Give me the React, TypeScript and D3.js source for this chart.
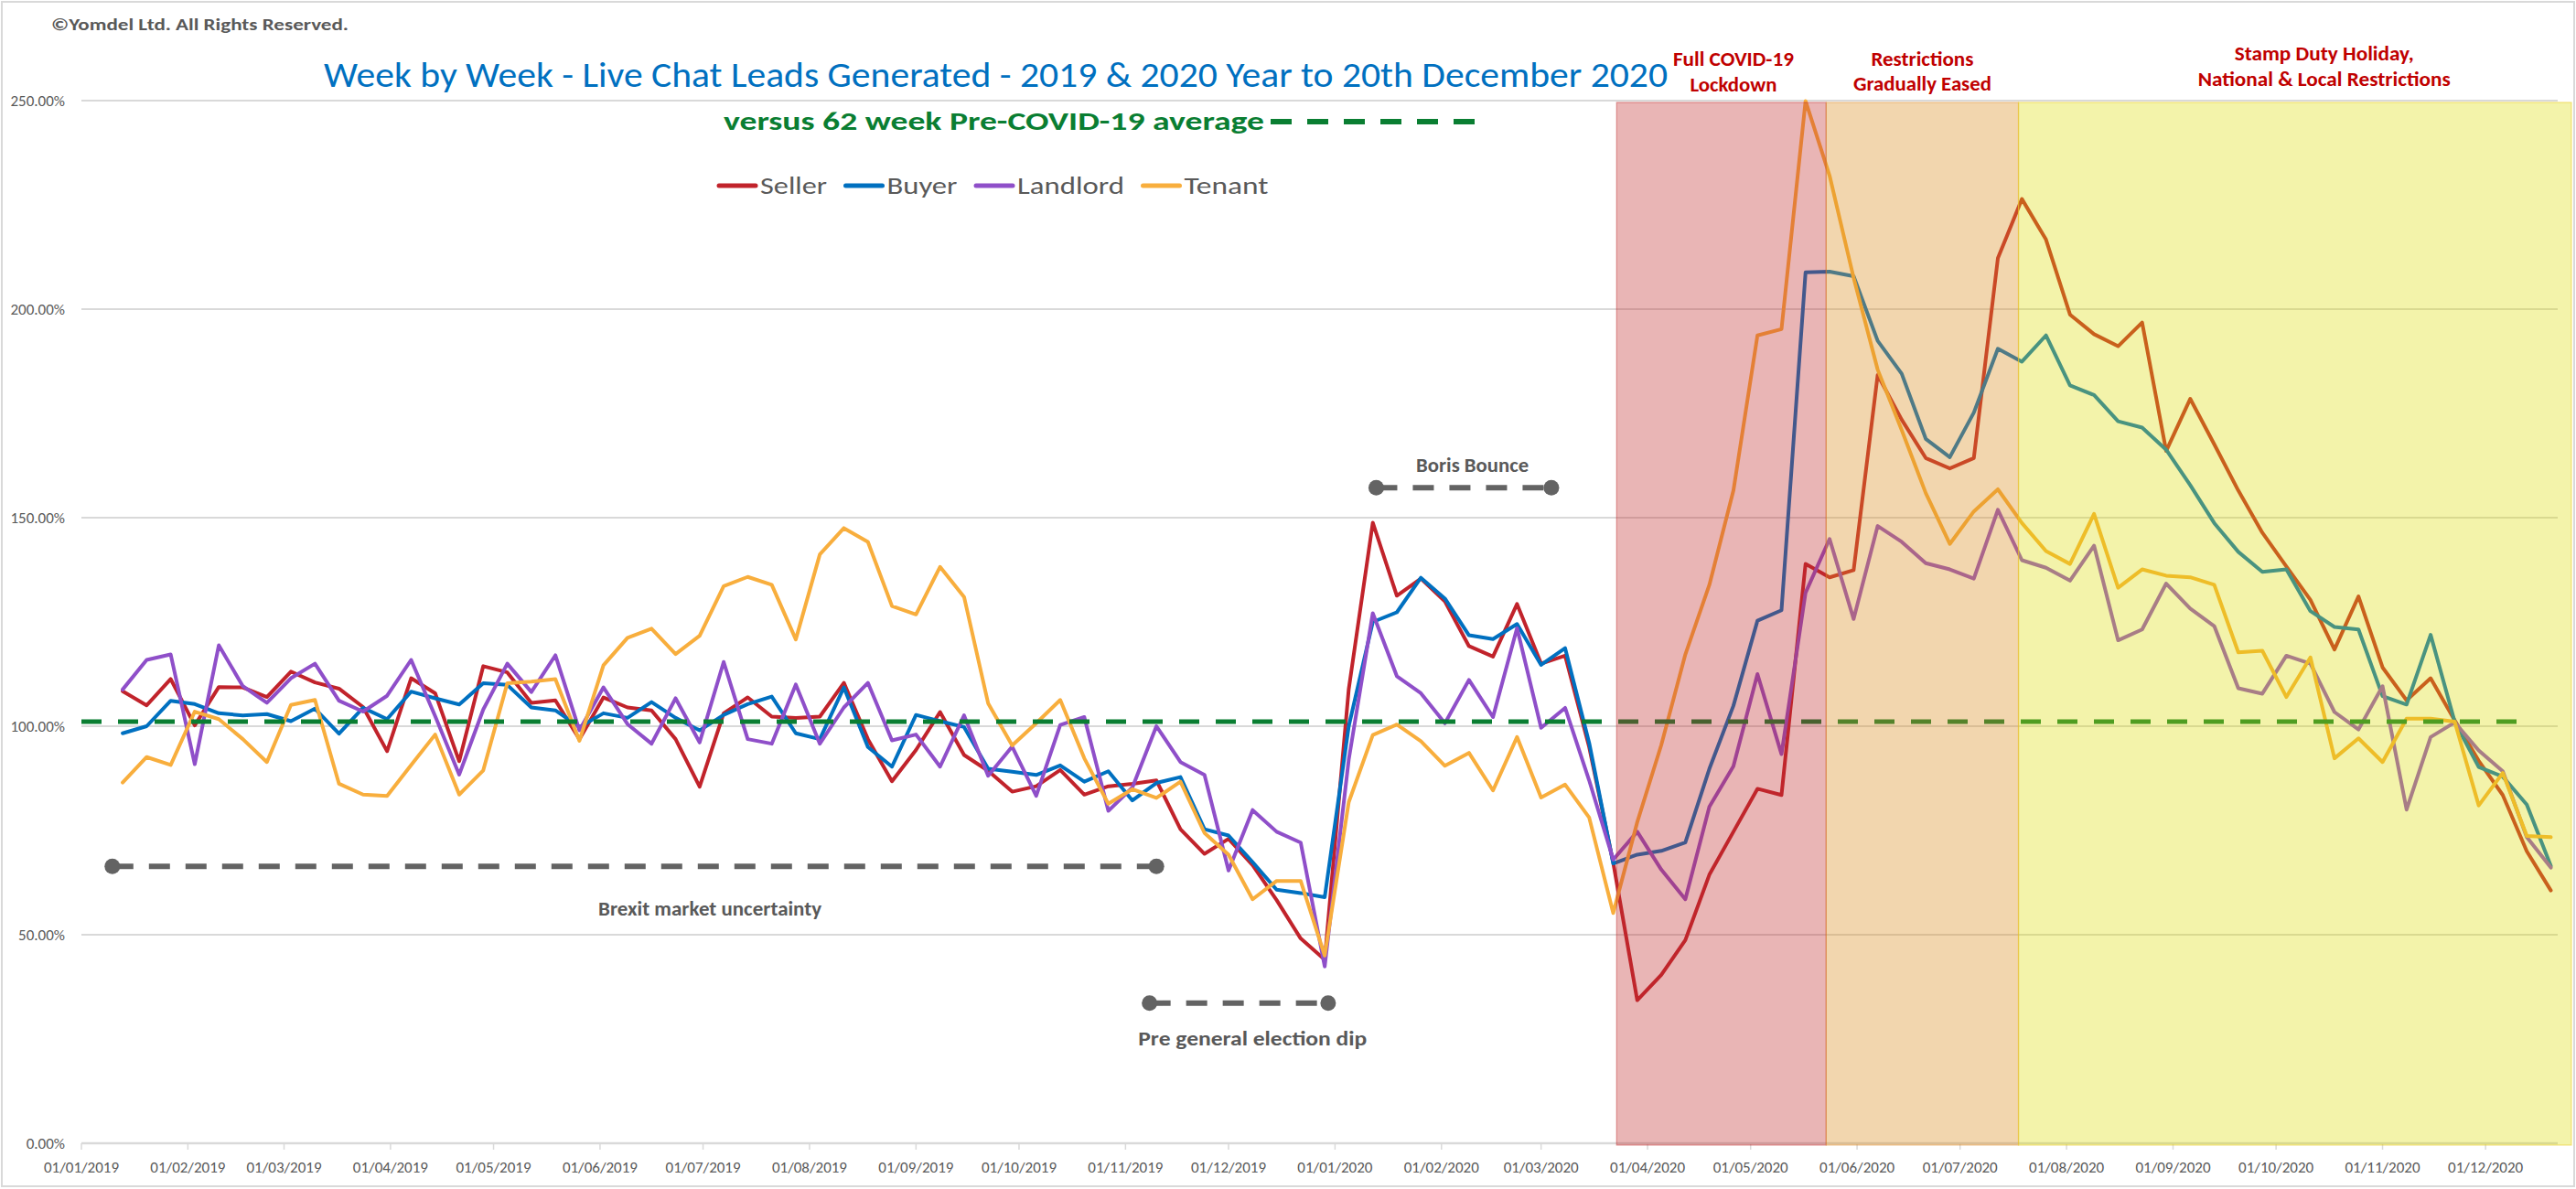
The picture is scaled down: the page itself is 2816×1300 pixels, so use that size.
import React, { useEffect, useRef } from 'react';
import * as d3 from 'd3';

// weekly data, week ending Sunday
const FIRST_WEEK = '2019-01-13';
const LAST_WEEK = '2020-12-20';

const seller = [
  108.4, 105.0, 111.3, 100.2, 109.4, 109.3, 107.0, 113.1, 110.5, 109.0, 104.6, 94.0, 111.5, 107.9, 91.6, 114.4, 112.9,
  105.6, 106.2, 96.9, 106.9, 104.5, 103.8, 96.9, 85.5, 103.1, 106.9, 102.3, 102.0, 102.3, 110.4, 96.9, 86.8, 94.3, 103.4,
  93.1, 89.3, 84.3, 85.6, 89.5, 83.6, 85.6, 86.2, 87.0, 75.3, 69.4, 73.0, 66.7, 58.3, 49.1, 44.0,
  108.9, 148.8, 131.3, 135.4, 129.9, 119.2, 116.7, 129.3, 115.0, 116.9, 95.0, 67.3, 34.3, 40.4, 48.7,
  64.4, 74.7, 85.0, 83.5, 138.9, 135.7, 137.4, 184.2, 173.5, 164.3, 161.8, 164.3, 212.2, 226.4, 216.7, 198.7, 194.0, 191.1,
  196.8, 166.0, 178.5, 167.6, 156.5, 146.4, 138.3, 130.3, 118.4, 131.1, 114.1, 106.2, 111.5, 101.4, 91.7, 83.5, 70.0, 60.6,
];

const buyer = [
  98.3, 100.0, 106.1, 105.3, 103.1, 102.6, 102.9, 101.2, 104.2, 98.2, 104.4, 101.7, 108.3, 106.7, 105.2, 110.3, 109.9,
  104.5, 103.8, 99.8, 103.1, 102.0, 105.8, 102.0, 99.0, 102.7, 105.3, 107.1, 98.3, 96.9, 109.3, 95.0, 90.3, 102.7, 101.2,
  99.8, 89.8, 89.1, 88.3, 90.6, 86.7, 89.2, 82.2, 86.4, 87.8, 75.3, 73.8, 67.4, 60.8, 60.0, 59.0,
  100.0, 125.0, 127.3, 135.6, 130.6, 121.8, 120.9, 124.5, 114.7, 118.7, 96.0, 67.1, 69.2, 70.1, 72.1,
  89.8, 104.9, 125.3, 127.8, 208.8, 209.0, 207.9, 192.4, 184.5, 168.9, 164.5, 175.2, 190.5, 187.4, 193.7, 181.7, 179.4, 173.1,
  171.6, 166.3, 157.8, 148.7, 141.8, 137.0, 137.6, 127.6, 123.8, 123.2, 107.2, 105.2, 121.9, 101.1, 90.2, 87.9, 81.2, 66.5,
];

const landlord = [
  108.8, 115.9, 117.2, 90.9, 119.4, 109.6, 105.6, 111.5, 115.0, 106.1, 103.5, 107.3, 115.9, 102.4, 88.4, 104.0, 115.0,
  108.2, 117.0, 99.0, 109.3, 100.5, 95.8, 106.7, 96.1, 115.4, 96.9, 95.8, 110.0, 95.8, 104.5, 110.4, 96.6, 98.0, 90.3,
  102.6, 88.1, 95.1, 83.3, 100.3, 102.2, 79.7, 85.3, 100.0, 91.4, 88.3, 65.4, 79.9, 74.7, 72.1, 42.4,
  92.0, 127.1, 112.0, 107.9, 100.7, 111.1, 102.2, 123.5, 99.6, 104.4, 87.0, 68.0, 74.7, 65.6, 58.5,
  80.7, 90.4, 112.5, 93.3, 132.0, 144.9, 125.7, 148.0, 144.2, 139.1, 137.6, 135.4, 151.9, 139.8, 138.0, 134.9, 143.3, 120.6,
  123.2, 134.2, 128.2, 124.0, 109.1, 107.8, 116.9, 115.0, 103.4, 99.2, 109.6, 80.0, 97.4, 100.9, 94.2, 89.2, 73.4, 66.1,
];

const tenant = [
  86.5, 92.6, 90.7, 103.5, 101.7, 96.9, 91.4, 105.1, 106.3, 86.2, 83.6, 83.3, 90.7, 98.0, 83.6, 89.4, 110.3,
  110.7, 111.3, 96.5, 114.6, 121.2, 123.4, 117.3, 121.7, 133.6, 135.8, 133.9, 120.8, 141.2, 147.5, 144.2, 128.8, 126.8, 138.2,
  131.0, 105.5, 95.4, 100.7, 106.3, 92.3, 81.4, 84.9, 82.8, 86.7, 74.4, 69.2, 58.5, 62.9, 62.9, 45.0,
  81.8, 97.9, 100.4, 96.4, 90.5, 93.6, 84.6, 97.4, 82.9, 86.0, 78.1, 55.2, 77.0, 95.5, 117.2,
  133.9, 156.5, 193.7, 195.2, 249.9, 232.0, 207.5, 185.5, 171.0, 155.9, 143.7, 151.5, 156.8, 148.7, 142.0, 138.9, 150.9, 133.2,
  137.6, 136.1, 135.7, 133.9, 117.7, 118.1, 107.0, 116.5, 92.3, 97.1, 91.4, 101.8, 101.8, 101.1, 81.0, 88.8, 73.7, 73.4,
];

const seriesNames = ['Seller', 'Buyer', 'Landlord', 'Tenant'];
const seriesColors = ['#c1232b', '#0070c0', '#8f4fc9', '#f8ae3d'];

// 62 week pre-COVID-19 average
const preCovidAverage = 101.1;

const yTicks = [0, 50, 100, 150, 200, 250];

const regions = [
  { lines: ['Full COVID-19', 'Lockdown'], from: '2020-03-23', to: '2020-05-23', labelAt: '2020-04-26' },
  { lines: ['Restrictions', 'Gradually Eased'], from: '2020-05-23', to: '2020-07-18', labelAt: '2020-06-20' },
  { lines: ['Stamp Duty Holiday,', 'National & Local Restrictions'], from: '2020-07-18', to: '2020-12-26', labelAt: '2020-10-15' },
];

const callouts = [
  { label: 'Brexit market uncertainty', from: '2019-01-10', to: '2019-11-10', level: 66.4, labelAt: '2019-07-03' },
  { label: 'Pre general election dip', from: '2019-11-08', to: '2019-12-30', level: 33.6, labelAt: '2019-12-08' },
  { label: 'Boris Bounce', from: '2020-01-13', to: '2020-03-04', level: 157.2, labelAt: '2020-02-10' },
];

const W = 2816;
const H = 1300;
const FONT = "Carlito, Calibri, Lato, 'Open Sans', sans-serif";
const GREY = '#595959';

const day = (s: string) => d3.utcParse('%Y-%m-%d')(s) as Date;

export default function App() {
  const ref = useRef<SVGSVGElement>(null);

  useEffect(() => {
    const svg = d3.select(ref.current);
    svg.selectAll('*').remove();

    const weeks = d3.utcSunday.range(day(FIRST_WEEK), d3.utcDay.offset(day(LAST_WEEK), 1));

    const x = d3.scaleUtc().domain([day('2019-01-01'), day('2020-12-22')]).range([89, 2796]);
    const y = d3.scaleLinear().domain([0, 250]).range([1250, 110]);

    // text squeezed to the width it has in the original (Calibri is narrow)
    const fitText = (g: any, txt: string, left: number, base: number, width: number, size: number, weight: string, fill: string) =>
      g.append('text')
        .attr('x', left).attr('y', base)
        .attr('textLength', width).attr('lengthAdjust', 'spacingAndGlyphs')
        .attr('font-family', FONT).attr('font-size', size).attr('font-weight', weight)
        .attr('fill', fill).text(txt);

    svg.append('rect')
      .attr('x', 2).attr('y', 2).attr('width', W - 4).attr('height', H - 5)
      .attr('fill', '#fff').attr('stroke', '#d9d9d9').attr('stroke-width', 2);

    // gridlines + y labels
    svg.append('g').selectAll('line').data(yTicks).enter().append('line')
      .attr('x1', x.range()[0]).attr('x2', x.range()[1])
      .attr('y1', d => y(d)).attr('y2', d => y(d))
      .attr('stroke', '#d9d9d9').attr('stroke-width', d => (d === 0 ? 2.5 : 1.8));

    svg.append('g').selectAll('text').data(yTicks).enter().append('text')
      .attr('x', 71).attr('y', d => y(d)).attr('dy', '0.35em')
      .attr('text-anchor', 'end').attr('font-family', FONT).attr('font-size', 17)
      .attr('fill', GREY).text(d => d3.format('.2f')(d) + '%');

    // x axis: monthly ticks
    const months = d3.utcMonth.range(day('2019-01-01'), day('2020-12-02'));
    svg.append('g').selectAll('line').data(months).enter().append('line')
      .attr('x1', d => x(d)).attr('x2', d => x(d))
      .attr('y1', 1250).attr('y2', 1257)
      .attr('stroke', '#d9d9d9').attr('stroke-width', 1.5);
    svg.append('g').selectAll('text').data(months).enter().append('text')
      .attr('x', d => x(d)).attr('y', 1282)
      .attr('text-anchor', 'middle').attr('font-family', FONT).attr('font-size', 17)
      .attr('fill', GREY).text(d => d3.utcFormat('%d/%m/%Y')(d));

    // series
    const line = d3.line<number>()
      .x((_, i) => x(weeks[i]))
      .y(d => y(d));
    [seller, buyer, landlord, tenant].forEach((vals, i) => {
      svg.append('path').datum(vals)
        .attr('d', line)
        .attr('fill', 'none')
        .attr('stroke', seriesColors[i])
        .attr('stroke-width', 4)
        .attr('stroke-linejoin', 'round')
        .attr('stroke-linecap', 'round');
    });

    // pre-COVID average
    svg.append('line')
      .attr('x1', x(day('2019-01-01'))).attr('x2', x(day('2020-12-12')))
      .attr('y1', y(preCovidAverage)).attr('y2', y(preCovidAverage))
      .attr('stroke', '#0a7e32').attr('stroke-width', 5).attr('stroke-dasharray', '22 18');

    // shaded periods drawn over the lines, like the Excel shapes
    const fills = ['rgba(192,43,43,0.35)', 'rgba(220,140,30,0.36)', 'rgba(220,220,0,0.333)'];
    const edges = ['rgba(192,43,43,0.45)', 'rgba(225,140,40,0.45)', 'rgba(235,205,40,0.55)'];
    const labelBase = [[72, 100], [72, 99], [66, 94]];
    const labelWidths: Record<string, number> = {
      'Full COVID-19': 132, 'Lockdown': 95, 'Restrictions': 112, 'Gradually Eased': 151,
      'Stamp Duty Holiday,': 196, 'National & Local Restrictions': 276,
    };
    regions.forEach((r, i) => {
      const x0 = x(day(r.from));
      const x1 = x(day(r.to));
      svg.append('rect')
        .attr('x', x0).attr('y', y(250) + 2)
        .attr('width', x1 - x0).attr('height', y(0) - y(250))
        .attr('fill', fills[i]).attr('stroke', edges[i]).attr('stroke-width', 1.2);
      const cx = x(day(r.labelAt));
      r.lines.forEach((t, j) => {
        const w = labelWidths[t];
        fitText(svg, t, cx - w / 2, labelBase[i][j], w, 23, 'bold', '#c00000');
      });
    });

    // grey callouts
    const calloutWidths = [244, 250, 123];
    const calloutDy = [54, 46, -17];
    callouts.forEach((c, i) => {
      const x0 = x(day(c.from));
      const x1 = x(day(c.to));
      const yy = y(c.level);
      const g = svg.append('g');
      g.append('line')
        .attr('x1', x0).attr('x2', x1).attr('y1', yy).attr('y2', yy)
        .attr('stroke', '#636363').attr('stroke-width', 6).attr('stroke-dasharray', '23 17');
      g.selectAll('circle').data([x0, x1]).enter().append('circle')
        .attr('cx', d => d).attr('cy', yy).attr('r', 8.5).attr('fill', '#636363');
      const cx = x(day(c.labelAt));
      fitText(g, c.label, cx - calloutWidths[i] / 2, yy + calloutDy[i], calloutWidths[i], 22, 'bold', GREY);
    });

    // titles
    fitText(svg, '\u00A9Yomdel Ltd. All Rights Reserved.', 56, 33, 325, 19, 'bold', GREY);
    fitText(svg, 'Week by Week - Live Chat Leads Generated - 2019 & 2020 Year to 20th December 2020',
      354, 95, 1469, 38, 'normal', '#0070c0');
    fitText(svg, 'versus 62 week Pre-COVID-19 average', 791, 142, 591, 29, 'bold', '#0a7e32');
    svg.append('line')
      .attr('x1', 1389).attr('x2', 1612).attr('y1', 133).attr('y2', 133)
      .attr('stroke', '#0a7e32').attr('stroke-width', 6).attr('stroke-dasharray', '23 17');

    // legend
    const legendTextWidths = [73, 77, 117, 92];
    let lx = 784;
    seriesNames.forEach((n, i) => {
      svg.append('line')
        .attr('x1', lx + 2).attr('x2', lx + 42).attr('y1', 203).attr('y2', 203)
        .attr('stroke', seriesColors[i]).attr('stroke-width', 5).attr('stroke-linecap', 'round');
      fitText(svg, n, lx + 47, 212, legendTextWidths[i], 27, 'normal', GREY);
      lx += 47 + legendTextWidths[i] + 18.5;
    });
  }, []);

  return (
    <svg
      ref={ref}
      width={W}
      height={H}
      style={{ position: 'absolute', left: 0, top: 0, display: 'block', background: '#fff' }}
    />
  );
}
